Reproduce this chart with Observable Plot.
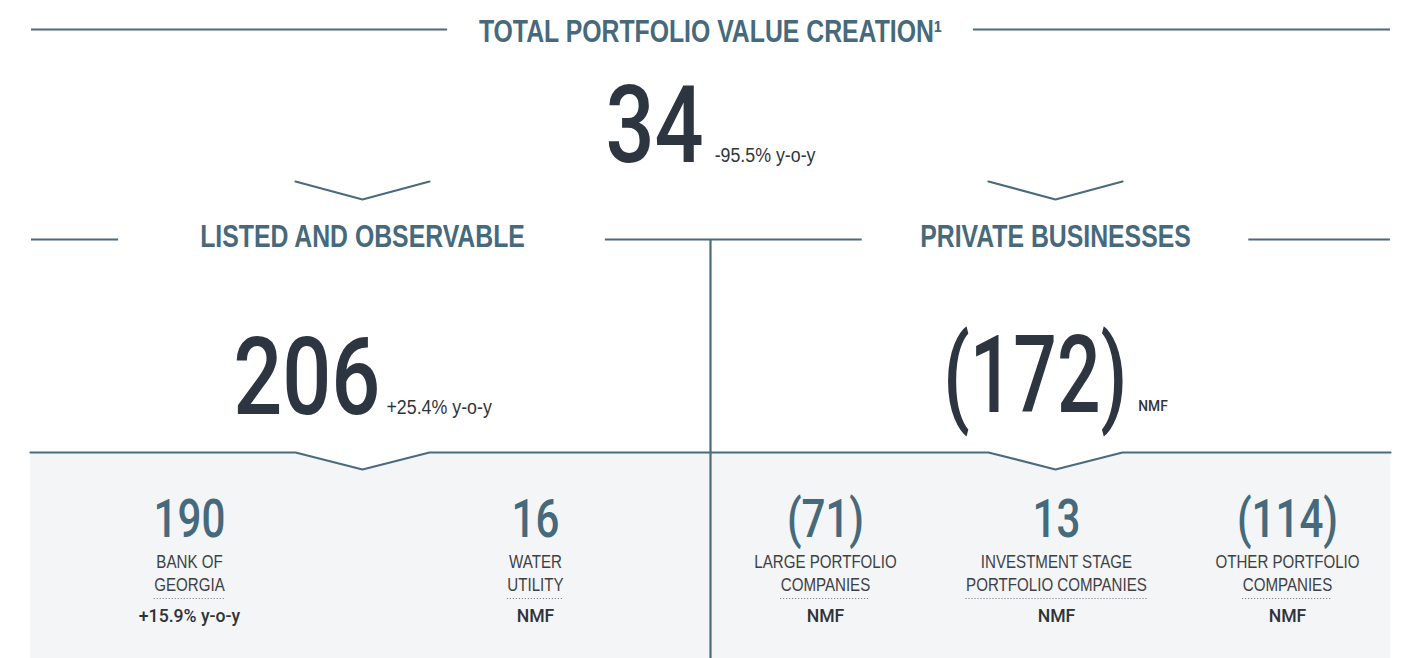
<!DOCTYPE html>
<html><head><meta charset="utf-8">
<script src="https://cdn.jsdelivr.net/npm/d3@7"></script>
<script src="https://cdn.jsdelivr.net/npm/@observablehq/plot@0.6"></script>
<style>
html,body{margin:0;padding:0;background:#fff;}
#chart svg{display:block;}
</style></head><body><div id="chart"></div>
<script>
// ---------------- data ----------------
const titleText = "TOTAL PORTFOLIO VALUE CREATION\u00B9";
const totalValue = 34;
const totalChange = "-95.5% y-o-y";
const groupNames = ["LISTED AND OBSERVABLE", "PRIVATE BUSINESSES"];
const groupValues = [206, -172];
const groupChanges = ["+25.4% y-o-y", "NMF"];
const itemNames = ["BANK OF\nGEORGIA", "WATER\nUTILITY", "LARGE PORTFOLIO\nCOMPANIES", "INVESTMENT STAGE\nPORTFOLIO COMPANIES", "OTHER PORTFOLIO\nCOMPANIES"];
const itemGroups = [0, 0, 1, 1, 1];
const itemValues = [190, 16, -71, 13, -114];
const itemChanges = ["+15.9% y-o-y", "NMF", "NMF", "NMF", "NMF"];

// ---------------- layout & styles ----------------
const W = 1404, H = 658;
const LEFT = 31, RIGHT = 1390, MID = 710;
const groupCenters = [362, 1055];
const itemCenters = [189, 535, 825, 1056, 1287];
const headerGaps = [[81, 80], [58, 58]];
const lineColor = "#4a6b7d";
const ST = {
  header:  {family: "'Liberation Sans', Arial, sans-serif", weight: "bold", size: 31, scale: 0.80, fill: "#46697c"},
  bigNum:  {family: "Roboto, 'Liberation Sans', sans-serif", weight: "500", size: 108, scale: 0.80, fill: "#2d3640"},
  bigNeg:  {family: "Roboto, 'Liberation Sans', sans-serif", weight: "500", size: 108, scale: 0.71, fill: "#2d3640"},
  bigChg:  {family: "'Liberation Sans', Arial, sans-serif", weight: "normal", size: 20, scale: 0.89, fill: "#30363c"},
  smallChg:{family: "Roboto, 'Liberation Sans', sans-serif", weight: "500", size: 15, scale: 0.92, fill: "#30363c"},
  itemNum: {family: "Roboto, 'Liberation Sans', sans-serif", weight: "500", size: 54, scale: 0.78, fill: "#46697c"},
  label:   {family: "'Liberation Sans', Arial, sans-serif", weight: "normal", size: 18, scale: 0.84, fill: "#3d4146"},
  itemChg: {family: "Roboto, 'Liberation Sans', sans-serif", weight: "500", size: 18, scale: 0.98, fill: "#2f3338"}
};
const ctx = document.createElement("canvas").getContext("2d");
function measure(str, st) { ctx.font = `${st.weight} ${st.size}px ${st.family}`; return ctx.measureText(str).width * st.scale; }
const fmt = v => v < 0 ? `(${Math.abs(v)})` : `${v}`;
const scaleByText = new Map();
const textOpts = (st, extra) => Object.assign({fontFamily: st.family, fontWeight: st.weight, fontSize: st.size, fill: st.fill, lineAnchor: "bottom"}, extra);
const reg = (strs, st) => strs.forEach(s => scaleByText.set(String(s).replace(/\n/g, ""), st.scale));

// ---------------- derived tables ----------------
const titleW = measure(titleText, ST.header);
const hRules = [
  {x1: LEFT, x2: MID - titleW / 2 - 31, y: 29},
  {x1: MID + titleW / 2 + 31, x2: RIGHT, y: 29}
];
const headerW = groupNames.map(g => measure(g, ST.header));
hRules.push({x1: LEFT, x2: groupCenters[0] - headerW[0] / 2 - headerGaps[0][0], y: 239});
hRules.push({x1: groupCenters[0] + headerW[0] / 2 + headerGaps[0][1], x2: groupCenters[1] - headerW[1] / 2 - headerGaps[1][0], y: 239});
hRules.push({x1: groupCenters[1] + headerW[1] / 2 + headerGaps[1][1], x2: RIGHT, y: 239});

const chevrons = [];
groupCenters.forEach((c, i) => {
  chevrons.push({k: i, x: c - 67, y: 181}, {k: i, x: c, y: 199}, {k: i, x: c + 67, y: 181});
});
const divider = [{x: LEFT - 1, y: 452}];
groupCenters.forEach(c => { divider.push({x: c - 67, y: 452}, {x: c, y: 469}, {x: c + 67, y: 452}); });
divider.push({x: RIGHT, y: 452});

const pairs = [{c: MID, v: totalValue, chg: totalChange, y: 161, cs: ST.bigChg, gap: 11}];
groupValues.forEach((v, i) => pairs.push({c: groupCenters[i], v, chg: groupChanges[i], y: v < 0 ? 411 : 413,
  cs: groupChanges[i] === "NMF" ? ST.smallChg : ST.bigChg, gap: groupChanges[i] === "NMF" ? 11 : 6}));
const numRows = [], negRows = [], chgRows = [], chgRowsSmall = [];
pairs.forEach(p => {
  const s = fmt(p.v);
  const ns = p.v < 0 ? ST.bigNeg : ST.bigNum;
  const wn = measure(s, ns), wc = measure(p.chg, p.cs);
  const x0 = p.c - (wn + p.gap + wc) / 2;
  (p.v < 0 ? negRows : numRows).push({x: x0, y: p.y, t: s});
  (p.cs === ST.smallChg ? chgRowsSmall : chgRows).push({x: x0 + wn + p.gap, y: p.y - (p.cs === ST.smallChg ? 1 : 0), t: p.chg});
});

const items = itemNames.map((n, i) => {
  const lines = n.split("\n");
  const lw = measure(lines[lines.length - 1], ST.label);
  return {x: itemCenters[i], name: n, val: fmt(itemValues[i]), chg: itemChanges[i], g: itemGroups[i], x1: itemCenters[i] - lw / 2, x2: itemCenters[i] + lw / 2};
});

reg([titleText], ST.header); reg(groupNames, ST.header);
reg(numRows.map(d => d.t), ST.bigNum); reg(negRows.map(d => d.t), ST.bigNeg);
reg(chgRows.map(d => d.t), ST.bigChg);
reg(items.map(d => d.val), ST.itemNum); reg(items.map(d => d.name), ST.label); reg(items.map(d => d.chg), ST.itemChg);

// ---------------- plot ----------------
const plot = Plot.plot({
  width: W, height: H, margin: 0,
  x: {domain: [0, W], range: [0, W], axis: null},
  y: {domain: [0, H], range: [0, H], axis: null},
  marks: [
    Plot.areaY(divider, {x: "x", y1: "y", y2: () => H, fill: "#f4f5f7"}),
    Plot.ruleY(hRules, {y: "y", x1: "x1", x2: "x2", stroke: lineColor, strokeWidth: 2.2}),
    Plot.line(chevrons, {x: "x", y: "y", z: "k", stroke: lineColor, strokeWidth: 2.2}),
    Plot.line(divider, {x: "x", y: "y", stroke: lineColor, strokeWidth: 2.2}),
    Plot.ruleX([{x: MID, y1: 239, y2: H}], {x: "x", y1: "y1", y2: "y2", stroke: lineColor, strokeWidth: 2.2}),
    Plot.ruleY(items, {y: () => 598, x1: "x1", x2: "x2", stroke: "#6b7075", strokeWidth: 1, strokeDasharray: "1 2"}),
    Plot.text([titleText], textOpts(ST.header, {x: () => MID, y: () => 41, text: d => d, textAnchor: "middle"})),
    Plot.text(groupNames, textOpts(ST.header, {x: (d, i) => groupCenters[i], y: () => 246, text: d => d, textAnchor: "middle"})),
    Plot.text(numRows, textOpts(ST.bigNum, {x: "x", y: "y", text: "t", textAnchor: "start"})),
    Plot.text(negRows, textOpts(ST.bigNeg, {x: "x", y: "y", text: "t", textAnchor: "start"})),
    Plot.text(chgRows, textOpts(ST.bigChg, {x: "x", y: "y", text: "t", textAnchor: "start"})),
    Plot.text(items, textOpts(ST.itemNum, {x: "x", y: () => 536, text: "val", textAnchor: "middle"})),
    Plot.text(items, textOpts(ST.label, {x: "x", y: () => 590, text: "name", textAnchor: "middle", lineHeight: 23 / 18})),
    Plot.text(items, textOpts(ST.itemChg, {x: "x", y: () => 621, text: "chg", textAnchor: "middle"})),
    Plot.text(chgRowsSmall, textOpts(ST.smallChg, {x: "x", y: "y", text: "t", textAnchor: "start"}))
  ]
});
// condense the type horizontally around each text's anchor point
const smallNMF = new Set(chgRowsSmall.map(d => d.t));
const groups = plot.querySelectorAll("g");
const lastGroup = groups[groups.length - 1];
plot.querySelectorAll("text").forEach(t => {
  let s = scaleByText.get(t.textContent);
  if (lastGroup.contains(t) && smallNMF.has(t.textContent)) s = ST.smallChg.scale;
  if (!s) return;
  let tr = t.getAttribute("transform");
  if (!tr) {
    const x = +t.getAttribute("x") || 0, y = +t.getAttribute("y") || 0;
    t.removeAttribute("x"); t.removeAttribute("y");
    tr = `translate(${x},${y})`;
  }
  t.setAttribute("transform", tr + ` scale(${s},1)`);
});
document.getElementById("chart").appendChild(plot);
</script>
</body></html>
